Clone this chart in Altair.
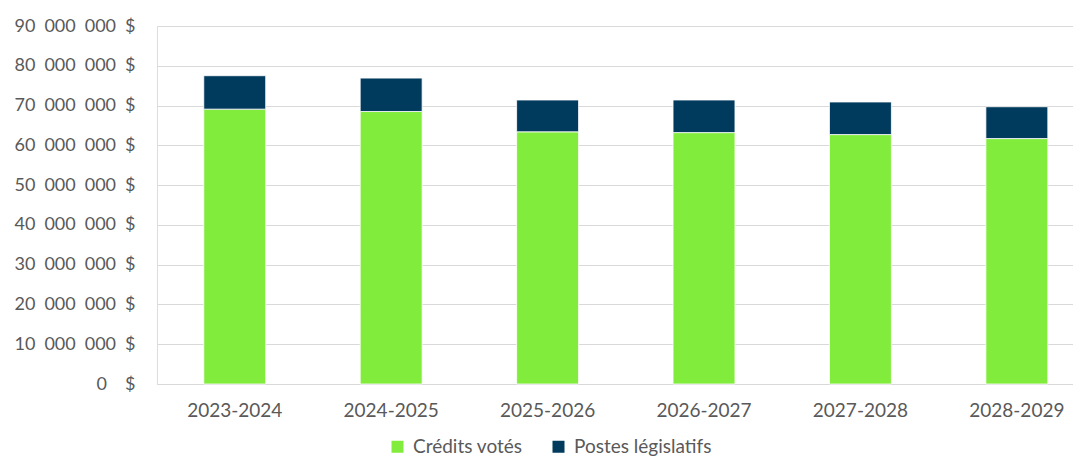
import altair as alt
import pandas as pd

years = ["2023-2024", "2024-2025", "2025-2026", "2026-2027", "2027-2028", "2028-2029"]
credits_votes = [69100000, 68500000, 63400000, 63200000, 62700000, 61700000]
postes_legislatifs = [8400000, 8400000, 8000000, 8200000, 8200000, 8000000]
series = ["Crédits votés", "Postes législatifs"]
colors = ["#82EC3C", "#003A5D"]

rows = []
for i, y in enumerate(years):
    rows.append({"annee": y, "serie": series[0], "valeur": credits_votes[i], "ordre": 0})
    rows.append({"annee": y, "serie": series[1], "valeur": postes_legislatifs[i], "ordre": 1})
df = pd.DataFrame(rows)

FONT = "Lato"
TXT = "#595959"

label_expr = ("datum.value == 0 ? '0\u2002\u2002$' : "
              "replace(format(datum.value, ','), regexp(',', 'g'), '\u2002') + '\u2002$'")

chart = alt.Chart(df).mark_bar(stroke="white", strokeWidth=0.8).encode(
    x=alt.X("annee:N", sort=years, title=None,
            scale=alt.Scale(paddingInner=0.604, paddingOuter=0.23, align=0.65),
            axis=alt.Axis(labelAngle=0, domain=False, ticks=False, grid=False, labelPadding=17,
                          labelFontSize=19, labelColor=TXT, labelFont=FONT)),
    y=alt.Y("valeur:Q", stack="zero", title=None,
            scale=alt.Scale(domain=[0, 90000000], nice=False),
            axis=alt.Axis(values=list(range(0, 90000001, 10000000)),
                          labelExpr=label_expr,
                          domain=False, ticks=False, labelPadding=22, labelFlush=False,
                          labelFontSize=18, labelColor=TXT, labelFont=FONT,
                          gridColor="#D9D9D9", gridWidth=1)),
    color=alt.Color("serie:N", sort=series,
                    scale=alt.Scale(domain=series, range=colors),
                    legend=alt.Legend(title=None, orient="none", legendX=231, legendY=411,
                                      direction="horizontal", symbolType="square",
                                      symbolSize=144, symbolStrokeWidth=0,
                                      labelFontSize=19, labelColor=TXT, labelFont=FONT,
                                      labelOffset=6, columnPadding=26, padding=0)),
    order=alt.Order("ordre:Q", sort="ascending"),
).properties(
    width=916, height=358,
    autosize=alt.AutoSizeParams(type="none"),
    padding={"left": 149, "top": 18, "right": 0, "bottom": 72},
).configure_view(strokeWidth=0, stroke="transparent").configure(background="white")

chart.save("out.html", embed_options={"renderer": "svg", "actions": False})
